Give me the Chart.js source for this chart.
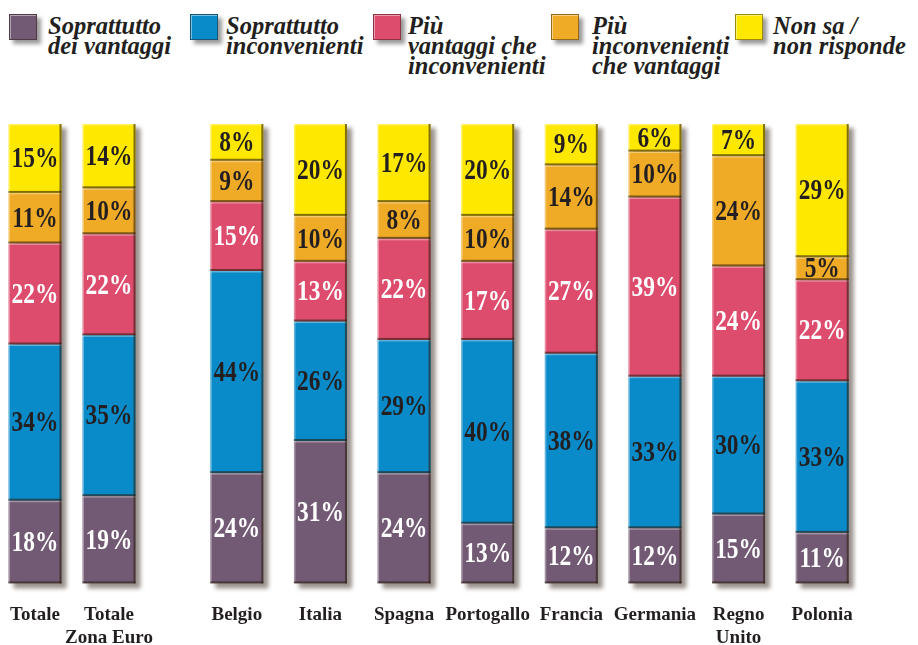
<!DOCTYPE html>
<html>
<head>
<meta charset="utf-8">
<script src="https://cdn.jsdelivr.net/npm/chart.js@4.4.0/dist/chart.umd.min.js"></script>
<style>
html, body { margin: 0; padding: 0; background: #fff; overflow: hidden; }
#wrap { position: relative; width: 918px; height: 645px; overflow: hidden; }
#legend .box { position: absolute; top: 14px; width: 28px; height: 26px; box-sizing: border-box;
  border: 1px solid rgba(40,25,15,0.45); box-shadow: 4px 4px 4px rgba(0,0,0,0.4), inset 1px 1px 0 rgba(255,255,255,0.45); }
#legend .txt { position: absolute; top: 16px; font: italic bold 24.5px "Liberation Serif", serif; line-height: 20px; color: #231f20; white-space: nowrap; }
canvas { position: absolute; top: 0; }
</style>
</head>
<body>
<div id="wrap">
  <div id="legend"></div>
  <canvas id="left" width="248" height="669" style="left:-52px"></canvas>
  <canvas id="right" width="769" height="669" style="left:145px"></canvas>
</div>
<script>
// data (per cent)
const categories = [['Totale'], ['Totale', 'Zona Euro'], ['Belgio'], ['Italia'], ['Spagna'], ['Portogallo'], ['Francia'], ['Germania'], ['Regno', 'Unito'], ['Polonia']];
const soprattuttoVantaggi = [18, 19, 24, 31, 24, 13, 12, 12, 15, 11];
const soprattuttoInconvenienti = [34, 35, 44, 26, 29, 40, 38, 33, 30, 33];
const piuVantaggi = [22, 22, 15, 13, 22, 17, 27, 39, 24, 22];
const piuInconvenienti = [11, 10, 9, 10, 8, 10, 14, 10, 24, 5];
const nonSa = [15, 14, 8, 20, 17, 20, 9, 6, 7, 29];

const seriesNames = [
	['Soprattutto', 'dei vantaggi'],
	['Soprattutto', 'inconvenienti'],
	['Più', 'vantaggi che', 'inconvenienti'],
	['Più', 'inconvenienti', 'che vantaggi'],
	['Non sa /', 'non risponde']
];
const seriesData = [soprattuttoVantaggi, soprattuttoInconvenienti, piuVantaggi, piuInconvenienti, nonSa];
const seriesColors = ['#735a74', '#0a8bc9', '#de4c6d', '#efab26', '#ffe800'];
const labelColors = ['#ffffff', '#231f20', '#ffffff', '#231f20', '#231f20'];

// legend (html, multi line italic)
const legendBoxX = [9, 190, 373, 551, 735];
const legendTextX = [48, 226, 408, 592, 773];
var legend = document.getElementById('legend');
seriesNames.forEach(function(name, i){
	var box = document.createElement('div');
	box.className = 'box';
	box.style.left = legendBoxX[i] + 'px';
	box.style.background = seriesColors[i];
	legend.appendChild(box);
	var txt = document.createElement('div');
	txt.className = 'txt';
	txt.style.left = legendTextX[i] + 'px';
	txt.innerHTML = name.join('<br>');
	legend.appendChild(txt);
});

// drop shadow behind each stacked column
const shadowPlugin = {
	id: 'colShadow',
	beforeDatasetsDraw(chart){
		const ctx = chart.ctx;
		const metas = chart.getSortedVisibleDatasetMetas();
		const n = chart.data.labels.length;
		ctx.save();
		ctx.filter = 'blur(2px)';
		ctx.fillStyle = 'rgba(70,55,45,0.55)';
		for(let i = 0; i < n; i++){
			let top = Infinity, bottom = -Infinity, left = 0, w = 0;
			metas.forEach(function(m){
				const p = m.data[i].getProps(['x', 'y', 'base', 'width'], true);
				top = Math.min(top, p.y, p.base);
				bottom = Math.max(bottom, p.y, p.base);
				left = p.x - p.width / 2;
				w = p.width;
			});
			ctx.fillRect(left + 5, top + 4, w, bottom - top + 1);
		}
		ctx.restore();
	}
};

// bevelled edges on each segment
const bevelPlugin = {
	id: 'bevel',
	afterDatasetsDraw(chart){
		const ctx = chart.ctx;
		ctx.save();
		chart.getSortedVisibleDatasetMetas().forEach(function(m){
			m.data.forEach(function(el){
				const p = el.getProps(['x', 'y', 'base', 'width'], true);
				const l = p.x - p.width / 2, r = p.x + p.width / 2;
				const t = Math.min(p.y, p.base), b = Math.max(p.y, p.base);
				ctx.fillStyle = 'rgba(255,255,255,0.35)';
				ctx.fillRect(l, t, p.width, 1.5);
				ctx.fillRect(l, t, 1.5, b - t);
				ctx.fillStyle = 'rgba(45,30,15,0.6)';
				ctx.fillRect(l, b - 2, p.width, 2);
				ctx.fillRect(r - 2, t, 2, b - t);
			});
		});
		ctx.restore();
	}
};

// percentage labels inside segments
const valueLabels = {
	id: 'valueLabels',
	afterDatasetsDraw(chart){
		const ctx = chart.ctx;
		ctx.save();
		ctx.font = 'bold 30px "Liberation Serif", serif';
		ctx.textAlign = 'center';
		ctx.textBaseline = 'middle';
		chart.getSortedVisibleDatasetMetas().forEach(function(m){
			const ds = chart.data.datasets[m.index];
			m.data.forEach(function(el, i){
				const p = el.getProps(['x', 'y', 'base'], true);
				ctx.save();
				ctx.translate(p.x, (p.y + p.base) / 2 + 1);
				ctx.scale(0.78, 1);
				ctx.fillStyle = ds.textColor;
				ctx.fillText(ds.data[i] + '%', 0, 0);
				ctx.restore();
			});
		});
		ctx.restore();
	}
};

// side padding is wide enough that the long tick labels do not squeeze the plot
function makeChart(id, from, to, barPct){
	var datasets = seriesData.map(function(d, i){
		return {
			label: seriesNames[i].join(' '),
			data: d.slice(from, to),
			backgroundColor: seriesColors[i],
			borderWidth: 0,
			barPercentage: barPct,
			categoryPercentage: 1,
			textColor: labelColors[i]
		};
	});
	return new Chart(document.getElementById(id), {
		type: 'bar',
		data: { labels: categories.slice(from, to), datasets: datasets },
		options: {
			responsive: false,
			animation: false,
			layout: { padding: { top: 124, left: 50, right: 50, bottom: 0 } },
			plugins: { legend: { display: false }, tooltip: { enabled: false } },
			scales: {
				x: {
					stacked: true,
					grid: { display: false, drawTicks: false },
					border: { display: false },
					ticks: {
						autoSkip: false, maxRotation: 0, padding: 20, color: '#231f20',
						font: { family: '"Liberation Serif", serif', weight: 'bold', size: 19, lineHeight: 1.2 }
					}
				},
				y: { stacked: true, display: false, min: 0, max: 100 }
			}
		},
		plugins: [shadowPlugin, bevelPlugin, valueLabels]
	});
}

makeChart('left', 0, 2, 53 / 74);
makeChart('right', 2, 10, 53 / 83.6);
</script>
</body>
</html>
